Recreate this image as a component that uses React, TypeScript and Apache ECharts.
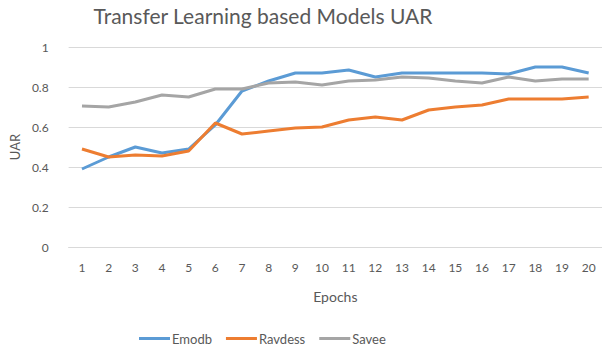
import React, { useEffect, useRef } from "react";
import * as echarts from "echarts";

const epochs = ["1","2","3","4","5","6","7","8","9","10","11","12","13","14","15","16","17","18","19","20"];
const emodb = [0.39,0.45,0.50,0.47,0.49,0.61,0.78,0.83,0.87,0.87,0.885,0.85,0.87,0.87,0.87,0.87,0.865,0.90,0.90,0.87];
const ravdess = [0.49,0.45,0.46,0.455,0.48,0.62,0.565,0.58,0.595,0.60,0.635,0.65,0.635,0.685,0.70,0.71,0.74,0.74,0.74,0.75];
const savee = [0.705,0.70,0.725,0.76,0.75,0.79,0.79,0.82,0.825,0.81,0.83,0.835,0.85,0.845,0.83,0.82,0.85,0.83,0.84,0.84];

const FONT = "Lato, 'Open Sans', sans-serif";
const TXT = "#595959";

export default function App() {
  const ref = useRef<HTMLDivElement>(null);
  useEffect(() => {
    const chart = echarts.init(ref.current!, undefined, { renderer: "svg" });
    const mk = (name: string, data: number[], color: string) => ({
      name, type: "line", data, symbol: "none", smooth: false,
      lineStyle: { color, width: 3 }, itemStyle: { color },
    });
    chart.setOption({
      animation: false,
      backgroundColor: "#ffffff",
      title: {
        text: "Transfer Learning based Models UAR",
        left: 258, top: 0, textAlign: "center",
        textStyle: { fontFamily: FONT, fontSize: 21, fontWeight: "normal", color: TXT },
      },
      legend: {
        left: 134, top: 326,
        itemWidth: 31, itemHeight: 3, itemGap: 14,
        icon: "rect",
        textStyle: { fontFamily: FONT, fontSize: 13, lineHeight: 15, color: TXT, padding: [0, 0, 0, -3] },
        data: ["Emodb", "Ravdess", "Savee"],
      },
      grid: { left: 59, right: 0, top: 47, bottom: 99, containLabel: false },
      xAxis: {
        type: "category", data: epochs, boundaryGap: true,
        name: "Epochs", nameLocation: "middle", nameGap: 42,
        nameTextStyle: { fontFamily: FONT, fontSize: 14, color: TXT },
        axisLine: { lineStyle: { color: "#D9D9D9", width: 1 } },
        axisTick: { show: false },
        axisLabel: { fontFamily: FONT, fontSize: 12, color: TXT, margin: 14 },
      },
      yAxis: {
        type: "value", min: 0, max: 1, interval: 0.2,
        name: "UAR", nameLocation: "middle", nameGap: 44, nameRotate: 90,
        nameTextStyle: { fontFamily: FONT, fontSize: 13, color: TXT },
        axisLine: { show: false }, axisTick: { show: false },
        axisLabel: { fontFamily: FONT, fontSize: 12, color: TXT, margin: 20,
          formatter: (v: number) => String(Math.round(v * 10) / 10) },
        splitLine: { lineStyle: { color: "#D9D9D9", width: 1 } },
      },
      series: [
        mk("Emodb", emodb, "#5B9BD5"),
        mk("Ravdess", ravdess, "#ED7D31"),
        mk("Savee", savee, "#A5A5A5"),
      ],
    });
    return () => chart.dispose();
  }, []);
  return <div ref={ref} style={{ position: "fixed", left: 0, top: 0, width: 602, height: 346 }} />;
}
